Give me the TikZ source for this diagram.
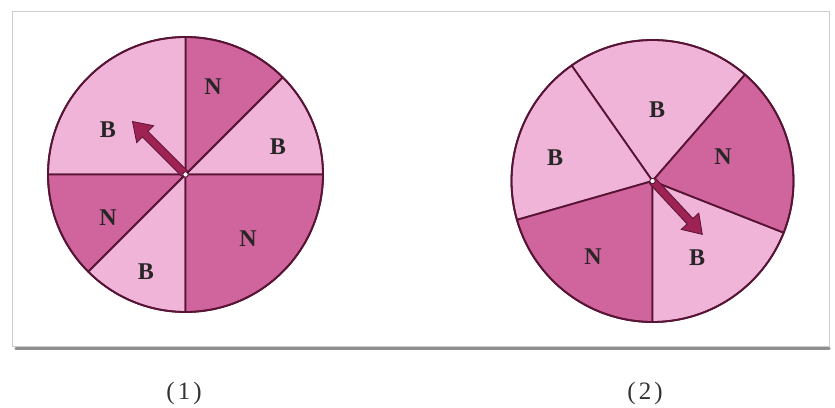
\documentclass[tikz,border=0pt]{standalone}
\usepackage{fontspec}
\setmainfont{Liberation Serif}
\definecolor{lightpk}{RGB}{240,180,216}
\definecolor{darkpk}{RGB}{208,100,156}
\definecolor{edgec}{RGB}{88,20,52}
\definecolor{arrowc}{RGB}{158,34,84}
\tikzset{
  sector/.style={draw=edgec, line width=1.8pt, line join=round},
  lbl/.style={font=\fontsize{24}{24}\selectfont\bfseries, text=black!85, inner sep=0pt},
  captext/.style={font=\fontsize{25}{25}\selectfont, text=black!80, inner sep=0pt},
  pointer/.style={fill=arrowc, draw=edgec, line width=0.8pt, line join=miter},
  hub/.style={circle, fill=white, draw=edgec, line width=0.9pt, minimum size=5.5pt, inner sep=0pt},
}
\newcommand{\mysector}[5]{% center, r, a1, a2, color
  \filldraw[sector, fill=#5] (#1) -- ++(#3:#2) arc[start angle=#3, end angle=#4, radius=#2] -- cycle;}
\begin{document}
\begin{tikzpicture}[x=1pt,y=1pt]
\useasboundingbox (0,0) rectangle (835,407);
\fill[white] (0,0) rectangle (835,407);
% frame
\draw[black!55, line width=3.5pt, line cap=round, opacity=0.8] (16,58.5) -- (829,58.5);
\draw[black!20, line width=1pt] (12,60) rectangle (829,395);
% ---------- spinner 1 ----------
\coordinate (c1) at (185.5,232.5);
\mysector{c1}{137.5}{0}{45}{lightpk}
\mysector{c1}{137.5}{45}{90}{darkpk}
\mysector{c1}{137.5}{90}{180}{lightpk}
\mysector{c1}{137.5}{180}{225}{darkpk}
\mysector{c1}{137.5}{225}{270}{lightpk}
\mysector{c1}{137.5}{270}{360}{darkpk}
\draw[edgec, line width=1.8pt] (c1) circle[radius=137.5];
\node[lbl] (n1a) at (213,320) {N};
\node[lbl] (b1a) at (278,260) {B};
\node[lbl] (b1b) at (108,277) {B};
\node[lbl] (n1b) at (108,189) {N};
\node[lbl] (b1c) at (146,135) {B};
\node[lbl] (n1c) at (248,168) {N};
\begin{scope}[shift={(c1)}, rotate=135]
  \filldraw[pointer] (0,-4) -- (57,-4) -- (57,-12) -- (75,0) -- (57,12) -- (57,4) -- (0,4) -- cycle;
\end{scope}
\node[hub] (h1) at (c1) {};
% ---------- spinner 2 ----------
\coordinate (c2) at (652.5,226);
\mysector{c2}{141}{49}{125}{lightpk}
\mysector{c2}{141}{125}{196}{lightpk}
\mysector{c2}{141}{196}{270}{darkpk}
\mysector{c2}{141}{270}{338.5}{lightpk}
\mysector{c2}{141}{-21.5}{49}{darkpk}
\draw[edgec, line width=1.8pt] (c2) circle[radius=141];
\node[lbl] (b2a) at (657,297) {B};
\node[lbl] (n2a) at (723,250) {N};
\node[lbl] (b2b) at (697,149) {B};
\node[lbl] (n2b) at (593,150) {N};
\node[lbl] (b2c) at (555,249) {B};
\begin{scope}[shift={(c2)}, rotate=-47]
  \filldraw[pointer] (0,-4) -- (55,-4) -- (55,-12) -- (73,0) -- (55,12) -- (55,4) -- (0,4) -- cycle;
\end{scope}
\node[hub] (h2) at (c2) {};
% captions
\node[captext] (cap1) at (184,14) {(\kern3pt1\kern3pt)};
\node[captext] (cap2) at (645,14) {(\kern3pt2\kern3pt)};
\end{tikzpicture}
\end{document}
